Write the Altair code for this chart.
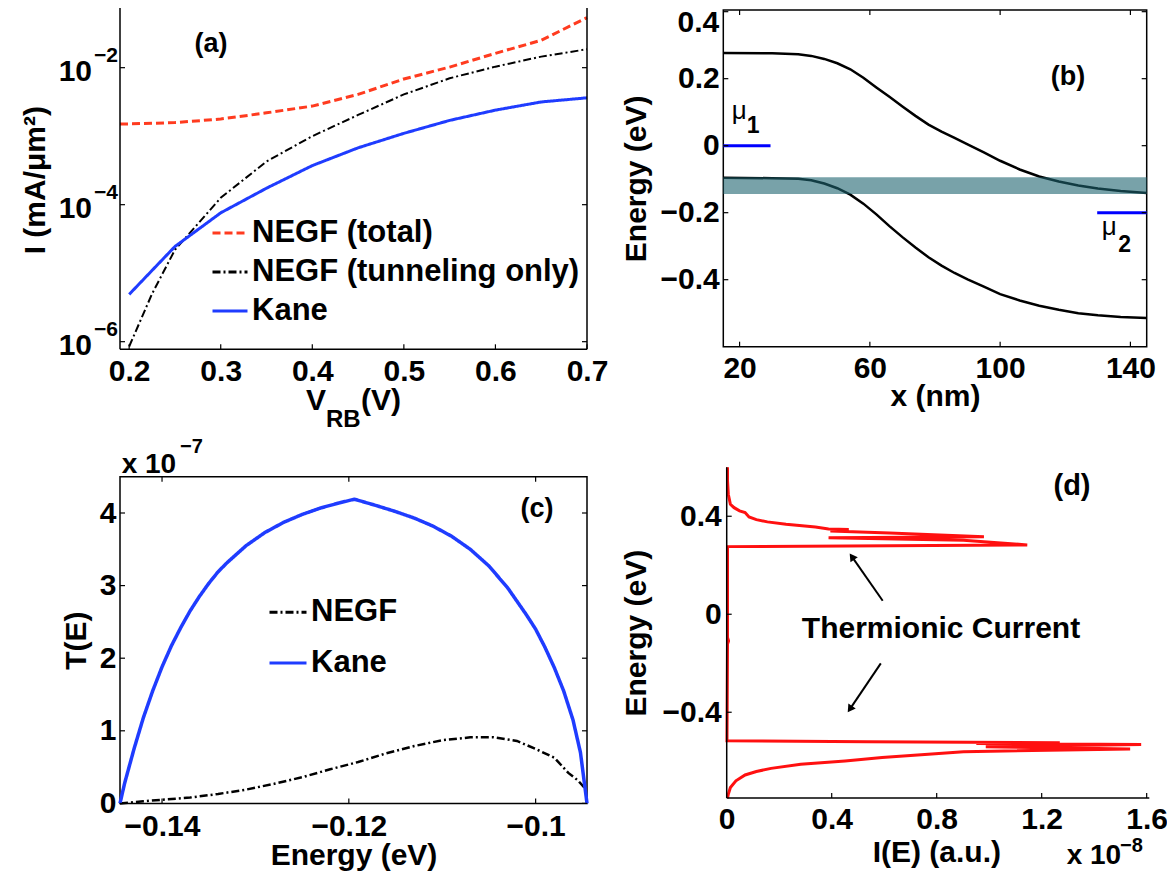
import altair as alt
import pandas as pd

FONT = "Liberation Sans"
MINUS = "\u2212"

# ================= data =================
# (a) current vs reverse bias
a_series = ["NEGF (total)", "NEGF (tunneling only)", "Kane"]
a_v_total = [0.19, 0.20, 0.25, 0.30, 0.35, 0.40, 0.45, 0.50, 0.55, 0.60, 0.65, 0.70]
a_i_total = [1.51e-3, 1.51e-3, 1.58e-3, 1.78e-3, 2.19e-3, 2.75e-3, 4.07e-3, 6.84e-3,
             1.02e-2, 1.62e-2, 2.51e-2, 5.37e-2]
a_v_tunnel = [0.20, 0.225, 0.25, 0.30, 0.35, 0.40, 0.45, 0.50, 0.55, 0.60, 0.65, 0.70]
a_i_tunnel = [8.5e-7, 5.0e-6, 2.19e-5, 1.26e-4, 4.27e-4, 1.00e-3, 2.04e-3, 4.07e-3,
              7.0e-3, 1.035e-2, 1.45e-2, 1.86e-2]
a_v_kane = [0.20, 0.25, 0.30, 0.35, 0.40, 0.45, 0.50, 0.55, 0.60, 0.65, 0.70]
a_i_kane = [4.9e-6, 2.45e-5, 7.6e-5, 1.74e-4, 3.72e-4, 6.76e-4, 1.10e-3, 1.70e-3,
            2.40e-3, 3.16e-3, 3.63e-3]
a_xticks = [0.2, 0.3, 0.4, 0.5, 0.6, 0.7]
a_yticks = [1e-6, 1e-4, 1e-2]
a_ybase = ["10", "10", "10"]
a_yexp = [MINUS + "6", MINUS + "4", MINUS + "2"]
a_xrange = [0.19, 0.7]
a_yrange = [7.74e-7, 0.0695]
a_frame_top = 0.1  # the box continues past the top of the page

# (b) band diagram
b_x = [15, 30, 38, 42, 46, 50, 54, 58, 62, 66, 70, 74, 78, 82, 86, 90, 95, 100, 106, 112,
       118, 124, 130, 137, 145]
b_ec = [0.277, 0.276, 0.273, 0.268, 0.259, 0.246, 0.228, 0.203, 0.174, 0.146, 0.117, 0.089,
        0.063, 0.042, 0.023, 0.004, -0.020, -0.045, -0.071, -0.092, -0.107, -0.119, -0.128,
        -0.135, -0.141]
b_ev = [-0.096, -0.097, -0.099, -0.103, -0.113, -0.127, -0.146, -0.173, -0.205, -0.240,
        -0.273, -0.304, -0.333, -0.358, -0.380, -0.399, -0.421, -0.443, -0.462, -0.478,
        -0.490, -0.500, -0.506, -0.511, -0.514]
b_band_x = [15, 145]
b_band_e = [-0.1445, -0.0945]
b_mu_x1 = [15, 129.8]
b_mu_x2 = [29.5, 145]
b_mu_e = [0.0, -0.2]
b_xticks = [20, 60, 100, 140]
b_yticks = [-0.4, -0.2, 0, 0.2, 0.4]
b_ytop = 0.4  # top tick, labelled separately so it stays inside the page

# (c) transmission
c_series = ["NEGF", "Kane"]
c_e_negf = [-0.1445, -0.142, -0.140, -0.137, -0.134, -0.131, -0.128, -0.125, -0.122, -0.119,
            -0.116, -0.113, -0.110, -0.107, -0.1045, -0.102, -0.100, -0.098, -0.0965,
            -0.0955, -0.0948]
c_t_negf = [0.0, 0.03, 0.05, 0.08, 0.13, 0.19, 0.27, 0.36, 0.47, 0.57, 0.69, 0.79, 0.87,
            0.91, 0.91, 0.86, 0.75, 0.63, 0.42, 0.32, 0.22]
c_e_kane = [-0.1445, -0.144, -0.143, -0.142, -0.141, -0.140, -0.139, -0.138, -0.137, -0.136,
            -0.135, -0.134, -0.133, -0.131, -0.129, -0.127, -0.125, -0.123, -0.121, -0.1194,
            -0.117, -0.115, -0.113, -0.111, -0.109, -0.107, -0.105, -0.103, -0.101, -0.100,
            -0.099, -0.098, -0.097, -0.096, -0.0952, -0.0945]
c_t_kane = [0.0, 0.28, 0.75, 1.18, 1.55, 1.88, 2.17, 2.42, 2.65, 2.85, 3.03, 3.19, 3.32,
            3.55, 3.73, 3.87, 3.98, 4.07, 4.14, 4.19, 4.10, 4.02, 3.93, 3.82, 3.68, 3.50,
            3.27, 2.97, 2.60, 2.40, 2.15, 1.87, 1.55, 1.15, 0.70, 0.0]
c_xticks = [-0.14, -0.12, -0.1]
c_yticks = [0, 1, 2, 3, 4]

# (d) energy-resolved current
d_i = [0.003, 0.003, 0.006, 0.014, 0.028, 0.049, 0.070, 0.085, 0.113, 0.155, 0.226,
       0.338, 0.388, 0.465, 0.395, 0.620, 0.980, 0.388, 0.902, 1.145, 0.003, 0.003,
       0.007, 0.003, 0.001, 0.536, 1.269, 0.951, 1.579, 0.987, 1.537, 0.902, 0.768,
       0.592, 0.451, 0.282, 0.169, 0.113, 0.070, 0.035, 0.014, 0.006, 0.003]
d_e = [0.600, 0.544, 0.490, 0.449, 0.435, 0.422, 0.415, 0.397, 0.386, 0.377, 0.367,
       0.356, 0.348, 0.346, 0.340, 0.332, 0.316, 0.312, 0.302, 0.283, 0.276, -0.095,
       -0.109, -0.122, -0.516, -0.520, -0.524, -0.528, -0.532, -0.541, -0.550, -0.561,
       -0.571, -0.585, -0.599, -0.612, -0.629, -0.642, -0.656, -0.680, -0.707, -0.735,
       -0.751]
d_xticks = [0, 0.4, 0.8, 1.2, 1.6]
d_yticks = [-0.4, 0, 0.4]

# ================= styles / layout =================
RED_DASH = "#ff3b1f"
BLUE = "#1f3cff"
AW, AH = 467, 339.3
BW, BH = 423.4, 336.7
CW, CH = 467, 326.7
DW, DH = 426, 321.3
TICKFS = 30

AXB = dict(grid=False, ticks=False, tickSize=0, domain=False, labelFlush=False,
           labelOverlap=False, labelFont=FONT, labelFontSize=TICKFS, labelFontWeight="bold",
           labelColor="black", titleFont=FONT, titleFontSize=30, titleFontWeight="bold",
           titleColor="black")


def xaxis(values, fmt, title, w, ty, pad=7):
    kw = dict(values=values, format=fmt, labelPadding=pad, **AXB)
    if title is None:
        kw["title"] = None
    else:
        kw.update(title=title, titleX=w / 2, titleY=ty, titleAlign="center",
                  titleBaseline="alphabetic", titleAngle=0)
    return alt.Axis(**kw)


def yaxis(values, fmt, title, tx, ty, labels=True, pad=4):
    kw = dict(values=values, labelPadding=pad, labels=labels, title=title, titleX=tx,
              titleY=ty, titleAngle=270, titleAlign="center", titleBaseline="alphabetic",
              **AXB)
    if fmt:
        kw["format"] = fmt
    return alt.Axis(**kw)


def txt(x, y, s, size, weight="bold", align="left"):
    return alt.Chart(alt.Data(values=[{}])).mark_text(
        text=s, font=FONT, fontSize=size, fontWeight=weight, align=align,
        baseline="alphabetic", color="black").encode(x=alt.value(x), y=alt.value(y))


def tick_layers(xf, xvals, xs, xax, yf, yvals, ys, yax, w, h, sides, L=5):
    out = []
    if xvals:
        dfx = pd.DataFrame({xf: xvals})
        X = alt.X(f"{xf}:Q", scale=xs, axis=xax)
        if "b" in sides:
            out.append(alt.Chart(dfx).mark_rule(color="black", strokeWidth=1.2).encode(
                x=X, y=alt.value(h), y2=alt.value(h - L)))
        if "t" in sides:
            out.append(alt.Chart(dfx).mark_rule(color="black", strokeWidth=1.2).encode(
                x=X, y=alt.value(0), y2=alt.value(L)))
    if yvals:
        dfy = pd.DataFrame({yf: yvals})
        Y = alt.Y(f"{yf}:Q", scale=ys, axis=yax)
        if "l" in sides:
            out.append(alt.Chart(dfy).mark_rule(color="black", strokeWidth=1.2).encode(
                y=Y, x=alt.value(0), x2=alt.value(L)))
        if "r" in sides:
            out.append(alt.Chart(dfy).mark_rule(color="black", strokeWidth=1.2).encode(
                y=Y, x=alt.value(w), x2=alt.value(w - L)))
    return out


def legend(lx, ly, size, rowpad):
    return alt.Legend(title=None, orient="none", legendX=lx, legendY=ly, symbolType="stroke",
                      symbolSize=size, symbolStrokeWidth=3, labelFont=FONT, labelFontSize=31,
                      labelFontWeight="bold", labelColor="black", labelOffset=3,
                      rowPadding=rowpad, padding=0, labelLimit=0)


one = alt.Data(values=[{}])

# ================= panel (a) =================
sxa = alt.Scale(domain=a_xrange, nice=False, zero=False)
sya = alt.Scale(type="log", domain=a_yrange, nice=False)
ax_xa = xaxis(a_xticks, ".1f", None, AW, 0)
ax_ya = yaxis(a_yticks, None, "I (mA/\u03bcm\u00b2)", -76, AH / 2, labels=False)
leg_a = legend(91, 204, 1225, 5.0)
col_a = alt.Color("series:N", scale=alt.Scale(domain=a_series,
                  range=[RED_DASH, "#000000", BLUE]), legend=leg_a)
dash_a = alt.StrokeDash("series:N", scale=alt.Scale(domain=a_series,
                        range=[[8, 4], [8, 3, 2, 3], [1, 0]]), legend=leg_a)
a_layers = []
for s, vv, ii, w in zip(a_series, [a_v_total, a_v_tunnel, a_v_kane],
                        [a_i_total, a_i_tunnel, a_i_kane], [3, 2, 3]):
    df = pd.DataFrame({"V": vv, "I": ii, "series": s})
    a_layers.append(alt.Chart(df).mark_line(strokeWidth=w).encode(
        x=alt.X("V:Q", scale=sxa, axis=ax_xa), y=alt.Y("I:Q", scale=sya, axis=ax_ya),
        color=col_a, strokeDash=dash_a))
# open-topped box: left, right and bottom sides
for xv in a_xrange:
    a_layers.append(alt.Chart(one).mark_rule(color="black", strokeWidth=1.5).encode(
        x=alt.XDatum(xv, scale=sxa, axis=ax_xa),
        y=alt.YDatum(a_yrange[0], scale=sya, axis=ax_ya), y2=alt.datum(a_frame_top)))
a_layers.append(alt.Chart(one).mark_rule(color="black", strokeWidth=1.5).encode(
    x=alt.XDatum(a_xrange[0], scale=sxa, axis=ax_xa), x2=alt.datum(a_xrange[1]),
    y=alt.YDatum(a_yrange[0], scale=sya, axis=ax_ya)))
a_layers += tick_layers("V", a_xticks, sxa, ax_xa, "I", a_yticks, sya, ax_ya, AW, AH, "blr")
df_alab = pd.DataFrame({"I": a_yticks, "base": a_ybase, "exp": a_yexp})
a_layers.append(alt.Chart(df_alab).mark_text(
    font=FONT, fontSize=30, fontWeight="bold", align="right", baseline="alphabetic",
    dy=13, color="black").encode(y=alt.Y("I:Q", scale=sya, axis=ax_ya), x=alt.value(-28),
                                 text="base:N"))
a_layers.append(alt.Chart(df_alab).mark_text(
    font=FONT, fontSize=21, fontWeight="bold", align="right", baseline="alphabetic",
    dy=-6, color="black").encode(y=alt.Y("I:Q", scale=sya, axis=ax_ya), x=alt.value(-2),
                                 text="exp:N"))
a_layers += [txt(186, 400, "V", 30), txt(206, 416.7, "RB", 24), txt(241, 400, "(V)", 30),
             txt(91, 42.4, "(a)", 27, align="center")]
panel_a = alt.layer(*a_layers, view=alt.ViewBackground(stroke="transparent")).properties(
    width=AW, height=AH)

# ================= panel (b) =================
sxb = alt.Scale(domain=[15, 145], nice=False, zero=False)
syb = alt.Scale(domain=[-0.6, 0.405], nice=False, zero=False)
ax_xb = xaxis(b_xticks, "d", "x (nm)", BW, 59)
ax_yb = yaxis([v for v in b_yticks if v != b_ytop], ".1~f", "Energy (eV)", -78, BH / 2)
nb = len(b_x)
df_b = pd.DataFrame({"x": b_x + b_x, "E": b_ec + b_ev, "band": ["Ec"] * nb + ["Ev"] * nb})
b_layers = [alt.Chart(df_b).mark_line(color="black", strokeWidth=2.5).encode(
    x=alt.X("x:Q", scale=sxb, axis=ax_xb), y=alt.Y("E:Q", scale=syb, axis=ax_yb),
    detail="band:N")]
df_band = pd.DataFrame({"x": [b_band_x[0]], "x2": [b_band_x[1]],
                        "E": [b_band_e[0]], "E2": [b_band_e[1]]})
b_layers.append(alt.Chart(df_band).mark_rect(color="#1e6470", opacity=0.6).encode(
    x=alt.X("x:Q", scale=sxb, axis=ax_xb), x2="x2:Q",
    y=alt.Y("E:Q", scale=syb, axis=ax_yb), y2="E2:Q"))
df_mu = pd.DataFrame({"x": b_mu_x1, "x2": b_mu_x2, "E": b_mu_e})
b_layers.append(alt.Chart(df_mu).mark_rule(color="#0000ff", strokeWidth=3).encode(
    x=alt.X("x:Q", scale=sxb, axis=ax_xb), x2="x2:Q",
    y=alt.Y("E:Q", scale=syb, axis=ax_yb)))
b_layers += tick_layers("x", b_xticks, sxb, ax_xb, "E", b_yticks, syb, ax_yb, BW, BH, "btlr")
b_layers.append(alt.Chart(one).mark_text(
    text=f"{b_ytop:.1f}", font=FONT, fontSize=TICKFS, fontWeight="bold", align="right",
    baseline="middle", dy=11, color="black").encode(
    x=alt.value(-4), y=alt.YDatum(b_ytop, scale=syb, axis=ax_yb)))
b_layers += [txt(8.4, 109, "\u03bc", 26, weight="normal"), txt(23.4, 123.3, "1", 23),
             txt(378.4, 225, "\u03bc", 26, weight="normal"), txt(395, 241.7, "2", 23),
             txt(344.8, 75, "(b)", 27, align="center")]
panel_b = alt.layer(*b_layers).properties(width=BW, height=BH)

# ================= panel (c) =================
sxc = alt.Scale(domain=[-0.1445, -0.0945], nice=False, zero=False)
syc = alt.Scale(domain=[0, 4.5], nice=False, zero=False)
ax_xc = xaxis(c_xticks, ".2~f", "Energy (eV)", CW, 61.5, pad=8)
ax_yc = yaxis(c_yticks, "d", "T(E)", -35, CH / 2)
leg_c = legend(148, 115.5, 1369, 15.7)
col_c = alt.Color("series:N", scale=alt.Scale(domain=c_series, range=["#000000", BLUE]),
                  legend=leg_c)
dash_c = alt.StrokeDash("series:N", scale=alt.Scale(domain=c_series,
                        range=[[8, 3, 2, 3], [1, 0]]), legend=leg_c)
c_layers = []
for s, ee, tt, w in zip(c_series, [c_e_negf, c_e_kane], [c_t_negf, c_t_kane], [2.5, 3.5]):
    df = pd.DataFrame({"E": ee, "T": tt, "series": s})
    c_layers.append(alt.Chart(df).mark_line(strokeWidth=w).encode(
        x=alt.X("E:Q", scale=sxc, axis=ax_xc), y=alt.Y("T:Q", scale=syc, axis=ax_yc),
        color=col_c, strokeDash=dash_c))
c_layers += tick_layers("E", c_xticks, sxc, ax_xc, "T", c_yticks, syc, ax_yc, CW, CH, "btlr")
c_layers += [txt(1.7, -4, "x 10", 28), txt(60, -24, MINUS + "7", 20),
             txt(417, 40.5, "(c)", 27, align="center")]
panel_c = alt.layer(*c_layers).properties(width=CW, height=CH)

# ================= panel (d) =================
sxd = alt.Scale(domain=[-0.013, 1.61], nice=False, zero=False)
syd = alt.Scale(domain=[-0.75, 0.5614], nice=False, zero=False)
ax_xd = xaxis(d_xticks, ".1~f", "I(E) (a.u.)", DW, 63, pad=6)
ax_yd = yaxis(d_yticks, ".1~f", "Energy (eV)", -78, 156, pad=2)
df_d = pd.DataFrame({"I": d_i, "E": d_e, "idx": list(range(len(d_i)))})
d_layers = [alt.Chart(df_d).mark_line(color="#ff1010", strokeWidth=3).encode(
    x=alt.X("I:Q", scale=sxd, axis=ax_xd), y=alt.Y("E:Q", scale=syd, axis=ax_yd),
    order="idx:Q")]
d_layers.append(alt.Chart(one).mark_rule(color="black", strokeWidth=1.5).encode(
    x=alt.XDatum(0, scale=sxd, axis=ax_xd), y=alt.YDatum(-0.75, scale=syd, axis=ax_yd),
    y2=alt.datum(0.6)))
d_layers.append(alt.Chart(one).mark_rule(color="black", strokeWidth=1.5).encode(
    x=alt.XDatum(0, scale=sxd, axis=ax_xd), x2=alt.datum(1.61), y=alt.value(DH)))
d_layers += tick_layers("I", d_xticks[1:], sxd, ax_xd, "E", [], syd, ax_yd, DW, DH, "b")
d_layers.append(alt.Chart(pd.DataFrame({"E": d_yticks})).mark_rule(
    color="black", strokeWidth=1.2).encode(
    y=alt.Y("E:Q", scale=syd, axis=ax_yd), x=alt.value(3.4), x2=alt.value(8.4)))
for (x1, y1, x2, y2, ang) in [(159.4, 124, 128.6, 79.9, 325), (157.5, 186.7, 126.6, 232.4, 214)]:
    d_layers.append(alt.Chart(one).mark_rule(color="black", strokeWidth=2).encode(
        x=alt.value(x1), y=alt.value(y1), x2=alt.value(x2), y2=alt.value(y2)))
    d_layers.append(alt.Chart(one).mark_point(
        shape="triangle-up", filled=True, size=80, color="black", opacity=1,
        angle=ang).encode(x=alt.value(x2), y=alt.value(y2)))
d_layers += [txt(348.7, 18, "(d)", 29, align="center"),
             txt(217.7, 161, "Thermionic Current", 30, align="center"),
             txt(343.4, 387, "x 10", 28), txt(396.7, 375, MINUS + "8", 20)]
panel_d = alt.layer(*d_layers, view=alt.ViewBackground(stroke="transparent")).properties(
    width=DW, height=DH)

# ================= assemble =================
chart = alt.ConcatChart(
    concat=[panel_a, panel_b, panel_c, panel_d], columns=2,
    spacing={"row": 126.7, "column": 136.3}, bounds="flush", align="each",
).resolve_scale(
    x="independent", y="independent", color="independent", strokeDash="independent"
).resolve_legend(color="independent", strokeDash="independent").properties(
    autosize=alt.AutoSizeParams(type="none"),
    padding={"left": 112, "top": 2, "right": 1047, "bottom": 861},
    background="white",
).configure_view(stroke="black", strokeWidth=1.5).configure_axis(
    labelFont=FONT, titleFont=FONT)

chart.save("out.html", embed_options={"renderer": "svg", "actions": False})
